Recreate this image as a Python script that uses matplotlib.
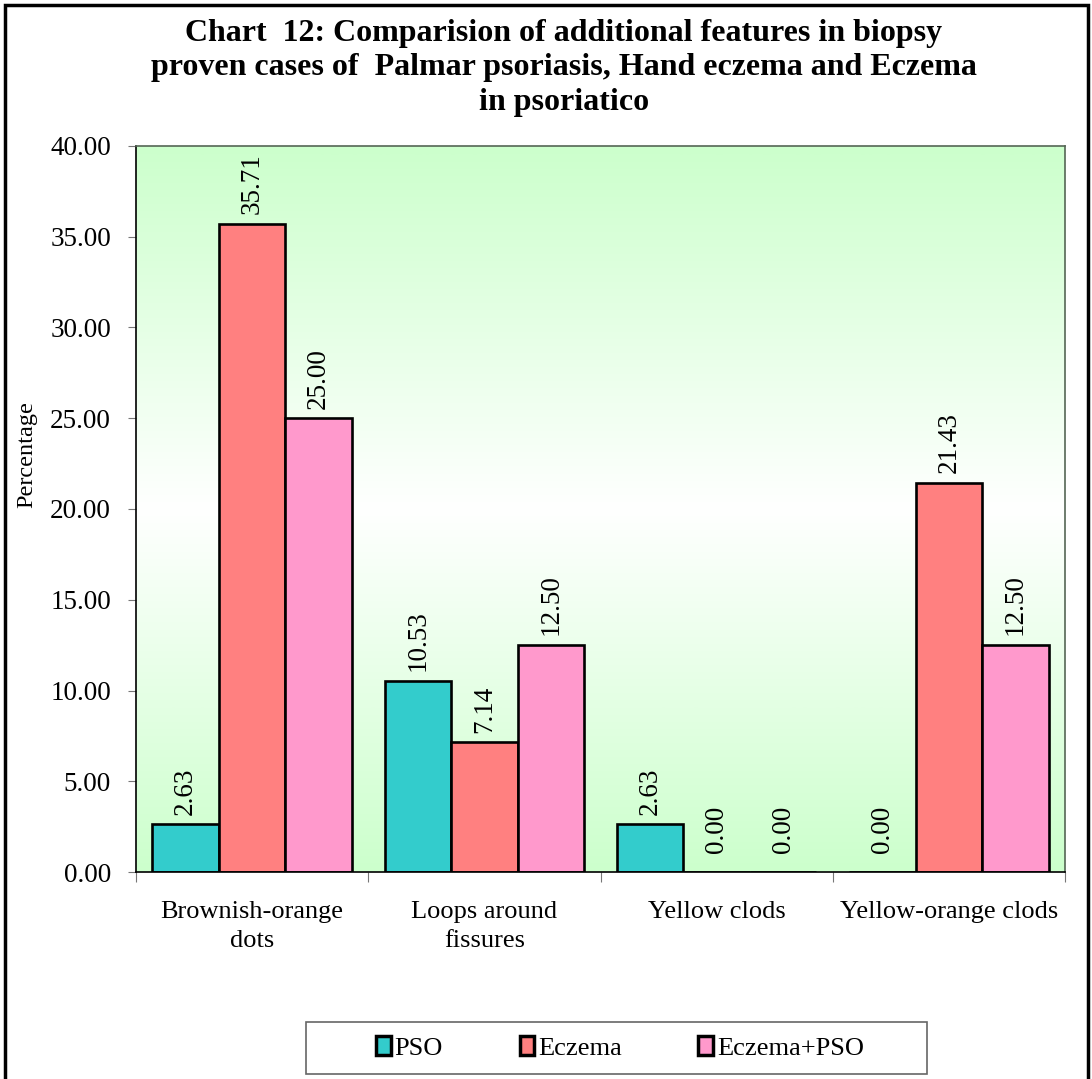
import numpy as np
import matplotlib
matplotlib.use('Agg')
import matplotlib.pyplot as plt
from matplotlib.colors import LinearSegmentedColormap
from matplotlib.patches import Rectangle

plt.rcParams['font.family'] = ['Liberation Serif', 'DejaVu Serif']

categories = ['Brownish-orange\ndots', 'Loops around\nfissures', 'Yellow clods', 'Yellow-orange clods']
series_names = ['PSO', 'Eczema', 'Eczema+PSO']
pso = [2.63, 10.53, 2.63, 0.00]
eczema = [35.71, 7.14, 0.00, 21.43]
eczema_pso = [25.00, 12.50, 0.00, 12.50]
yticks = [0, 5, 10, 15, 20, 25, 30, 35, 40]

colors = ['#33cccc', '#ff8080', '#ff99cc']
title = ('Chart  12: Comparision of additional features in biopsy\n'
         'proven cases of  Palmar psoriasis, Hand eczema and Eczema\n'
         'in psoriatico')

W, H = 1092, 1079
fig = plt.figure(figsize=(W / 100, H / 100), dpi=100)
ax = fig.add_axes([136 / W, 1 - 872 / H, (1065 - 136) / W, (872 - 146) / H])

# green-white-green background of the plot area
cmap = LinearSegmentedColormap.from_list('bg', ['#ccffcc', '#ffffff', '#ccffcc'])
grad = np.linspace(0, 1, 256).reshape(-1, 1)
ax.imshow(grad, cmap=cmap, aspect='auto', extent=(-0.5, 3.5, 0, 40),
          zorder=0, interpolation='bicubic')

x = np.arange(len(categories))
width = 0.286
series = [pso, eczema, eczema_pso]
for i, (name, vals, col) in enumerate(zip(series_names, series, colors)):
    bars = ax.bar(x + (i - 1) * width, vals, width, color=col, edgecolor='black',
                  linewidth=1.9, label=name, zorder=2)
    for b, v in zip(bars, vals):
        off = 14 if v == 0 else 7
        ax.annotate('%.2f' % v, (b.get_x() + b.get_width() / 2, v),
                    xytext=(0, off), textcoords='offset points',
                    rotation=90, ha='center', va='bottom', fontsize=19.5)

ax.set_xlim(-0.5, 3.5)
ax.set_ylim(0, 40)
ax.set_yticks(yticks)
ax.set_yticklabels(['%.2f' % t for t in yticks], fontsize=19.5)
ax.tick_params(axis='y', direction='out', length=6, color='#777777', pad=12)

# group separators as major ticks, category names on minor ticks
ax.set_xticks(np.arange(-0.5, 4.0, 1.0))
ax.set_xticklabels([])
ax.set_xticks(x, minor=True)
ax.set_xticklabels(categories, minor=True, fontsize=19, linespacing=1.4)
ax.tick_params(axis='x', which='major', direction='out', length=7, color='#777777')
ax.tick_params(axis='x', which='minor', length=0, pad=21)

ax.spines['left'].set_color('black')
ax.spines['bottom'].set_color('black')
ax.spines['left'].set_linewidth(1.2)
ax.spines['bottom'].set_linewidth(1.2)
for s in ('top', 'right'):
    ax.spines[s].set_color('#556655')
    ax.spines[s].set_linewidth(1.2)

fig.text(564 / W, 1 - 68 / H, title, ha='center', va='center',
         fontsize=23, fontweight='bold', linespacing=1.25)
fig.text(27 / W, 1 - 455 / H, 'Percentage', rotation=90, ha='center',
         va='center', fontsize=17.5)

leg = ax.legend(loc='center', bbox_to_anchor=(620 / W, 1 - 1048 / H),
                bbox_transform=fig.transFigure, ncol=3, fontsize=19,
                frameon=False, handlelength=0.55, handleheight=0.7,
                handletextpad=0.15, columnspacing=2.9)
for h in leg.legend_handles:
    h.set_linewidth(2.5)

# legend frame
fig.patches.append(Rectangle((306 / W, 1 - 1074 / H), (927 - 306) / W, 52 / H,
                             transform=fig.transFigure, fill=False,
                             edgecolor='#666666', linewidth=1.2))

# outer chart frame
fig.patches.append(Rectangle((5 / W, -0.1), 1083 / W, 1.1 - 5 / H,
                             transform=fig.transFigure, fill=False,
                             edgecolor='black', linewidth=2.5))

fig.savefig('out.png', dpi=100)
